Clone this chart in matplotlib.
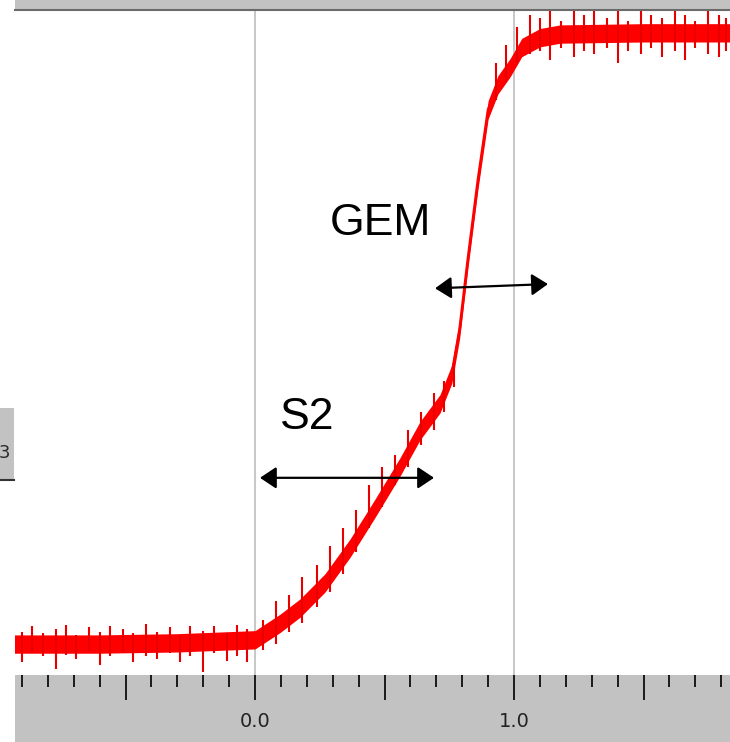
import numpy as np
import matplotlib
matplotlib.use("Agg")
import matplotlib.pyplot as plt
from matplotlib.patches import Rectangle
from matplotlib.ticker import MultipleLocator

# trace (time axis units, signal normalised 0..1)
t = [-0.93, -0.6, -0.3, 0.0, 0.097, 0.174, 0.27, 0.367, 0.463, 0.56, 0.637,
     0.714, 0.76, 0.79, 0.822, 0.861, 0.9, 0.938, 0.985, 1.03, 1.10, 1.178,
     1.5, 1.84]
sig = [0.0, 0.0, 0.002, 0.007, 0.034, 0.059, 0.10, 0.157, 0.222, 0.29, 0.349,
       0.393, 0.442, 0.515, 0.63, 0.76, 0.874, 0.915, 0.943, 0.976, 0.992,
       0.998, 1.0, 1.0]

# noise spikes: position, low end, high end
spike_t = [-0.90, -0.86, -0.82, -0.77, -0.73, -0.69, -0.64, -0.60, -0.56,
           -0.51, -0.47, -0.42, -0.38, -0.33, -0.29, -0.25, -0.20, -0.16,
           -0.11, -0.07, -0.03,
           0.03, 0.08, 0.13, 0.18, 0.24, 0.29, 0.34, 0.39, 0.44, 0.49, 0.54,
           0.59, 0.64, 0.69, 0.73, 0.77, 0.93, 0.97, 1.01,
           1.06, 1.10, 1.14, 1.18, 1.23, 1.27, 1.31, 1.36, 1.40, 1.44, 1.49,
           1.53, 1.57, 1.62, 1.66, 1.70, 1.75, 1.79, 1.82]
spike_lo = [-0.03, -0.015, -0.02, -0.04, -0.018, -0.025, -0.012, -0.035, -0.02,
            -0.015, -0.03, -0.02, -0.025, -0.015, -0.03, -0.02, -0.045, -0.015,
            -0.028, -0.02, -0.03,
            -0.01, 0.0, 0.02, 0.035, 0.06, 0.085, 0.115, 0.15, 0.19, 0.225,
            0.26, 0.29, 0.325, 0.35, 0.38, 0.42, 0.89, 0.92, 0.95,
            0.965, 0.97, 0.955, 0.975, 0.96, 0.97, 0.965, 0.975, 0.95, 0.97,
            0.965, 0.975, 0.96, 0.97, 0.955, 0.975, 0.965, 0.96, 0.97]
spike_hi = [0.02, 0.03, 0.018, 0.025, 0.032, 0.015, 0.028, 0.02, 0.03, 0.025,
            0.018, 0.033, 0.02, 0.028, 0.015, 0.03, 0.022, 0.03, 0.018, 0.032,
            0.025,
            0.04, 0.07, 0.08, 0.11, 0.13, 0.16, 0.19, 0.22, 0.26, 0.29, 0.31,
            0.35, 0.38, 0.41, 0.43, 0.46, 0.95, 0.98, 1.01,
            1.03, 1.025, 1.04, 1.02, 1.035, 1.03, 1.045, 1.025, 1.035, 1.02,
            1.04, 1.03, 1.025, 1.04, 1.03, 1.02, 1.035, 1.03, 1.025]

grid_t = [0.0, 1.0]
tick_labels = ["0.0", "1.0"]

fig = plt.figure(figsize=(7.3, 7.42), dpi=100)
W, H = 730, 742

ax = fig.add_axes([15 / W, 67 / H, 715 / W, (675 - 9) / H])
ax.set_xlim(-0.927, 1.834)
ax.set_ylim(-0.0506, 1.039)
ax.axis("off")

for g in grid_t:
    ax.axvline(g, color="#bdbdbd", lw=1.2, zorder=1)

t_arr = np.array(t)
s_arr = np.array(sig)
ax.fill_between(t_arr, s_arr - 0.015, s_arr + 0.015, color="#ff0000", lw=0, zorder=2)
ax.plot(t_arr, s_arr, color="#ff0000", lw=2.0, zorder=2)
ax.vlines(spike_t, spike_lo, spike_hi, color="#e80000", lw=1.5, zorder=2)

arrow = dict(arrowstyle="<|-|>,head_length=0.45,head_width=0.3", color="black",
             lw=1.6, mutation_scale=22, shrinkA=0, shrinkB=0)
ax.annotate("", xy=(1.131, 0.589), xytext=(0.695, 0.582), arrowprops=arrow, zorder=5)
ax.annotate("", xy=(0.691, 0.272), xytext=(0.019, 0.272), arrowprops=arrow, zorder=5)
ax.text(0.483, 0.688, "GEM", fontsize=32, family="Liberation Sans",
        ha="center", va="center", zorder=5)
ax.text(0.20, 0.37, "S2", fontsize=32, family="Liberation Sans",
        ha="center", va="center", zorder=5)

# bottom time axis bar
bx = fig.add_axes([15 / W, 0, 715 / W, 67 / H], facecolor="#c2c2c2")
bx.set_xlim(ax.get_xlim())
bx.set_ylim(0, 1)
for sp in bx.spines.values():
    sp.set_visible(False)
bx.xaxis.set_major_locator(MultipleLocator(0.5))
bx.xaxis.set_minor_locator(MultipleLocator(0.1))
bx.tick_params(axis="x", which="both", direction="in", top=True, bottom=False,
               labelbottom=False, color="#1a1a1a", width=1.4)
bx.tick_params(axis="x", which="major", length=18)
bx.tick_params(axis="x", which="minor", length=8.5)
bx.set_yticks([])
for g, lab in zip(grid_t, tick_labels):
    bx.text(g, 0.31, lab, fontsize=14, color="#222222", ha="center", va="center",
            fontweight="medium")

# top frame bar and cut-off side label box
fig.patches.append(Rectangle((15 / W, 1 - 9 / H), 1, 9 / H, transform=fig.transFigure,
                             facecolor="#c2c2c2", edgecolor="none"))
fig.add_artist(plt.Line2D([15 / W, 1], [1 - 9.5 / H] * 2, color="#6a6a6a", lw=1.5))
fig.patches.append(Rectangle((0, 1 - 479 / H), 14 / W, 71 / H, transform=fig.transFigure,
                             facecolor="#c2c2c2", edgecolor="none"))
fig.add_artist(plt.Line2D([0, 14 / W], [1 - 480 / H] * 2, color="#333333", lw=1.5))
fig.text(-1 / W, 1 - 453 / H, "3", fontsize=13, color="#2a2a2a", ha="left", va="center")

fig.savefig("out.png", dpi=100)
